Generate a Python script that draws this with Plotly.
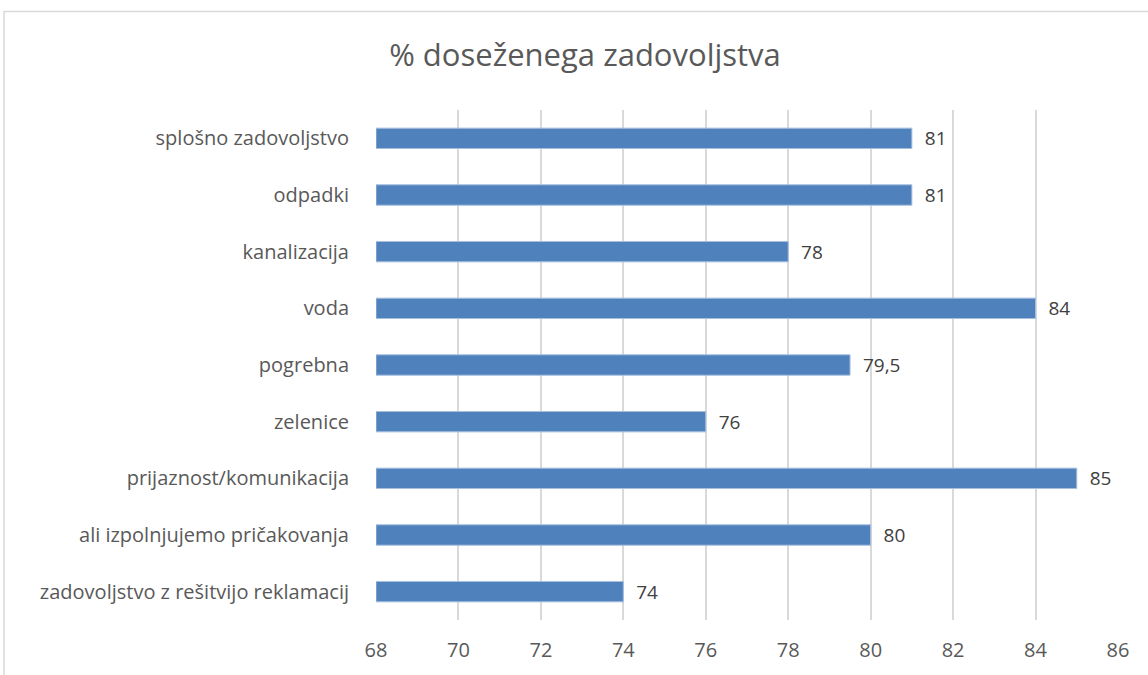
import plotly.graph_objects as go

categories = [
    "splošno zadovoljstvo",
    "odpadki",
    "kanalizacija",
    "voda",
    "pogrebna",
    "zelenice",
    "prijaznost/komunikacija",
    "ali izpolnjujemo pričakovanja",
    "zadovoljstvo z rešitvijo reklamacij",
]
values = [81, 81, 78, 84, 79.5, 76, 85, 80, 74]
x_ticks = [68, 70, 72, 74, 76, 78, 80, 82, 84, 86]
x_min = 68

FONT = "Open Sans"

labels = ["\u00a0\u00a0" + (str(v).replace(".", ",") if v % 1 else str(int(v))) for v in values]

fig = go.Figure()
fig.add_trace(go.Bar(
    x=[v - x_min for v in values],
    y=categories,
    orientation="h",
    base=x_min,
    marker=dict(color="#4F81BD", line=dict(color="#A7BFDE", width=1)),
    text=labels,
    textposition="outside",
    constraintext="none",
    textfont=dict(family=FONT, size=19, color="#404040"),
    cliponaxis=False,
))

fig.update_layout(
    width=1148,
    height=675,
    paper_bgcolor="white",
    plot_bgcolor="white",
    margin=dict(l=376, r=30, t=110, b=53),
    bargap=0.64,
    showlegend=False,
    separators=",.",
    title=dict(
        text="% doseženega zadovoljstva",
        x=0.5096, xref="container", xanchor="center",
        y=0.9185, yref="container", yanchor="middle",
        font=dict(family=FONT, size=31, color="#595959"),
    ),
    xaxis=dict(
        range=[68, 86],
        tickvals=x_ticks,
        showgrid=True,
        gridcolor="#D9D9D9",
        gridwidth=1.5,
        zeroline=False,
        showline=False,
        ticks="outside",
        ticklen=12,
        tickcolor="rgba(0,0,0,0)",
        tickfont=dict(family=FONT, size=20, color="#595959"),
    ),
    yaxis=dict(
        autorange="reversed",
        showgrid=False,
        showline=False,
        ticks="outside",
        ticklen=22,
        tickcolor="rgba(0,0,0,0)",
        tickfont=dict(family=FONT, size=20, color="#595959"),
    ),
    shapes=[dict(
        type="rect", xref="paper", yref="paper",
        x0=-0.5013, x1=1.2, y0=-0.3, y1=1.193,
        line=dict(color="#D9D9D9", width=1.5),
        fillcolor="rgba(0,0,0,0)", layer="below",
    )],
)

# drop the default page margin so the chart sits at the window's corner
fig.write_html(
    "out.html",
    config={"displayModeBar": False},
    post_script="document.body.style.margin='0px';",
)
